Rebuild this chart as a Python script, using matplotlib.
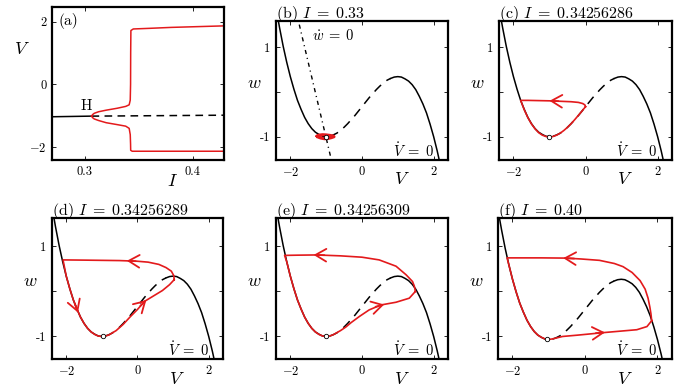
import matplotlib
matplotlib.use('Agg')
import matplotlib.pyplot as plt
import numpy as np

plt.rcParams['font.family'] = 'serif'
plt.rcParams['font.serif'] = ['cmr10', 'DejaVu Serif']
plt.rcParams['mathtext.fontset'] = 'cm'
plt.rcParams['axes.unicode_minus'] = False
plt.rcParams['axes.formatter.use_mathtext'] = True

RED = '#e31a1c'

# ---- panel (a): bifurcation diagram ----
a_I_stable = [0.27, 0.2885, 0.3065]
a_V_stable = [-1.03, -1.02, -1.01]
a_I_unstable = [0.3065, 0.35, 0.39, 0.43]
a_V_unstable = [-1.01, -1.0, -0.99, -0.98]
a_I_max = [0.3065, 0.3075, 0.309, 0.313, 0.32, 0.33, 0.338, 0.3412, 0.3422, 0.3425, 0.3426, 0.3428, 0.345, 0.36, 0.38, 0.40, 0.43]
a_V_max = [-1.01, -0.96, -0.92, -0.87, -0.82, -0.76, -0.70, -0.65, -0.5, 0.0, 1.0, 1.72, 1.77, 1.79, 1.82, 1.84, 1.87]
a_I_min = [0.3065, 0.3075, 0.309, 0.313, 0.32, 0.33, 0.338, 0.3412, 0.3422, 0.3425, 0.3426, 0.344, 0.38, 0.43]
a_V_min = [-1.01, -1.06, -1.10, -1.15, -1.22, -1.28, -1.33, -1.4, -1.6, -1.9, -2.1, -2.13, -2.13, -2.13]

nc_V = [-2.4, -2.3, -2.2, -2.1, -2.0, -1.9, -1.8, -1.7, -1.6, -1.5, -1.4, -1.3, -1.2, -1.1, -1.0,
        -0.9, -0.8, -0.7, -0.6, -0.5, -0.4, -0.3, -0.2, -0.1, 0.0, 0.1, 0.2, 0.3, 0.4, 0.5, 0.6, 0.7, 0.8,
        0.9, 1.0, 1.1, 1.2, 1.3, 1.4, 1.5, 1.6, 1.7, 1.8, 1.9, 2.0, 2.1, 2.2]
nc_w = [1.88, 1.43, 1.02, 0.66, 0.34, 0.06, -0.19, -0.39, -0.57, -0.71, -0.82, -0.90, -0.95, -0.99, -1.0,
        -0.99, -0.96, -0.92, -0.86, -0.79, -0.71, -0.62, -0.53, -0.43, -0.33, -0.23, -0.13, -0.04, 0.05, 0.13, 0.20, 0.26, 0.30,
        0.33, 0.34, 0.33, 0.29, 0.24, 0.16, 0.05, -0.10, -0.27, -0.47, -0.72, -1.0, -1.32, -1.68]
nc_w_f = [1.81, 1.36, 0.95, 0.59, 0.27, -0.01, -0.26, -0.46, -0.64, -0.78, -0.89, -0.97, -1.02, -1.06, -1.07,
          -1.06, -1.03, -0.99, -0.93, -0.86, -0.78, -0.69, -0.60, -0.50, -0.40, -0.30, -0.20, -0.11, -0.02, 0.06, 0.13, 0.19, 0.23,
          0.26, 0.27, 0.26, 0.22, 0.17, 0.09, -0.02, -0.17, -0.34, -0.54, -0.79, -1.07, -1.39, -1.75]

# w-nullcline in (b)
wn_V = [-1.75, -0.86]
wn_w = [1.5, -1.5]

# ---- red trajectories ----
b_V = [-1.25, -1.2, -1.1, -1.0, -0.9, -0.8, -0.78, -0.85, -0.95, -1.05, -1.15, -1.22, -1.25]
b_w = [-0.99, -0.965, -0.955, -0.96, -0.97, -0.985, -1.0, -1.02, -1.04, -1.045, -1.03, -1.01, -0.99]

c_V = [0.0, -0.02, -0.08, -0.2, -0.4, -0.7, -1.0, -1.3, -1.6, -1.8, -1.7, -1.6, -1.5, -1.4, -1.3, -1.2, -1.1,
       -1.0, -0.9, -0.8, -0.7, -0.6, -0.5, -0.4, -0.3, -0.2, -0.1, 0.0]
c_w = [-0.33, -0.29, -0.26, -0.235, -0.22, -0.21, -0.2, -0.195, -0.19, -0.19, -0.40, -0.575, -0.715, -0.825, -0.91, -0.965, -0.995,
       -1.01, -0.995, -0.965, -0.92, -0.86, -0.79, -0.71, -0.62, -0.525, -0.43, -0.33]

d_V = [1.03, 1.02, 0.95, 0.8, 0.6, 0.3, 0.0, -0.5, -1.0, -1.5, -2.09, -2.0, -1.9, -1.8, -1.7, -1.6, -1.5, -1.4, -1.3, -1.2,
       -1.1, -1.0, -0.9, -0.8, -0.6, -0.4, -0.2, 0.0, 0.2, 0.45, 0.7, 0.9, 1.03]
d_w = [0.26, 0.35, 0.45, 0.53, 0.60, 0.65, 0.67, 0.685, 0.69, 0.695, 0.70, 0.34, 0.06, -0.19, -0.39, -0.57, -0.71, -0.82, -0.90, -0.955,
       -0.99, -1.0, -0.99, -0.965, -0.87, -0.73, -0.56, -0.40, -0.22, -0.10, 0.02, 0.15, 0.26]

e_V = [1.49, 1.46, 1.41, 1.23, 0.95, 0.48, 0.0, -0.6, -1.27, -1.8, -2.16, -2.1, -2.0, -1.9, -1.8, -1.7, -1.6, -1.5, -1.4,
       -1.3, -1.2, -1.1, -1.0, -0.9, -0.8, -0.6, -0.45, -0.3, -0.08, 0.2, 0.53, 0.95, 1.32, 1.49]
e_w = [0.0, 0.12, 0.22, 0.37, 0.56, 0.70, 0.76, 0.79, 0.81, 0.805, 0.80, 0.66, 0.34, 0.06, -0.19, -0.39, -0.57, -0.71, -0.82,
       -0.90, -0.955, -0.99, -1.0, -0.99, -0.96, -0.87, -0.79, -0.69, -0.56, -0.41, -0.30, -0.24, -0.15, 0.0]

f_V = [1.84, 1.82, 1.79, 1.74, 1.66, 1.52, 1.3, 1.05, 0.81, 0.4, -0.1, -0.53, -1.2, -1.8, -2.15, -2.1, -2.0, -1.9, -1.8,
       -1.7, -1.6, -1.5, -1.4, -1.3, -1.2, -1.1, -1.0, -0.9, -0.62, -0.2, 0.57, 1.0, 1.43, 1.71, 1.84]
f_w = [-0.65, -0.5, -0.35, -0.15, 0.05, 0.24, 0.42, 0.55, 0.62, 0.69, 0.72, 0.74, 0.745, 0.745, 0.745, 0.59, 0.27, -0.01, -0.26,
       -0.46, -0.64, -0.78, -0.89, -0.97, -1.02, -1.055, -1.065, -1.055, -1.0, -0.97, -0.91, -0.88, -0.85, -0.78, -0.65]

# arrows: (tail, tip)
arrows = {
    'c': [((-0.75, -0.207), (-1.0, -0.2))],
    'd': [((-0.05, 0.672), (-0.3, 0.68)), ((-1.76, -0.27), (-1.67, -0.47)), ((0.08, -0.32), (0.25, -0.19))],
    'e': [((-1.05, 0.805), (-1.35, 0.81)), ((0.38, -0.34), (0.62, -0.29))],
    'f': [((-0.3, 0.73), (-0.6, 0.74)), ((0.3, -0.925), (0.55, -0.91))],
}

fixed_pts = {'b': (-1.0, -1.0), 'c': (-1.0, -1.0), 'd': (-0.97, -1.0), 'e': (-1.0, -1.0), 'f': (-1.05, -1.06)}

titles = {'b': r'(b) $I\;=\;0.33$', 'c': r'(c) $I\;=\;0.34256286$', 'd': r'(d) $I\;=\;0.34256289$',
          'e': r'(e) $I\;=\;0.34256309$', 'f': r'(f) $I\;=\;0.40$'}

loops = {'b': (b_V, b_w), 'c': (c_V, c_w), 'd': (d_V, d_w), 'e': (e_V, e_w), 'f': (f_V, f_w)}

fig = plt.figure(figsize=(6.85, 3.9), dpi=100)

def style(ax):
    for s in ax.spines.values():
        s.set_linewidth(1.6)
    ax.tick_params(direction='in', length=3, width=0.6, top=True, right=True, labelsize=9, pad=4)

# panel (a)
ax = fig.add_axes([0.0759, 0.5897, 0.2511, 0.3923])
ax.plot(a_I_stable, a_V_stable, color='black', lw=1.1)
ax.plot(a_I_unstable, a_V_unstable, color='black', lw=1.1, dashes=(5, 3.5))
ax.plot(a_I_max, a_V_max, color=RED, lw=1.1)
ax.plot(a_I_min, a_V_min, color=RED, lw=1.1)
ax.set_xlim(0.27, 0.4287)
ax.set_ylim(-2.41, 2.47)
ax.set_xticks([0.3, 0.4])
ax.set_xticklabels(['0.3', '0.4'])
ax.set_yticks([-2, 0, 2])
ax.set_yticklabels([r'$-2$', '0', '2'])
ax.text(0.3015, -0.68, 'H', fontsize=11, ha='center', va='center')
ax.text(0.04, 0.91, '(a)', transform=ax.transAxes, fontsize=11, ha='left', va='center')
ax.text(-0.175, 0.725, '$V$', transform=ax.transAxes, fontsize=13, ha='center', va='center')
ax.text(0.70, -0.135, '$I$', transform=ax.transAxes, fontsize=13, ha='center', va='center')
style(ax)

positions = {
    'b': [0.4029, 0.5897, 0.2511, 0.3564],
    'c': [0.7285, 0.5897, 0.2526, 0.3564],
    'd': [0.0759, 0.0795, 0.2496, 0.3615],
    'e': [0.4029, 0.0795, 0.2511, 0.3615],
    'f': [0.7270, 0.0795, 0.2540, 0.3615],
}

nV = np.array(nc_V)
for key in ['b', 'c', 'd', 'e', 'f']:
    ax = fig.add_axes(positions[key])
    w = np.array(nc_w_f if key == 'f' else nc_w)
    left = nV <= -1.0
    mid = (nV >= -0.9) & (nV <= 0.8)
    right = nV >= 0.8
    ax.plot(nV[left], w[left], color='black', lw=1.1)
    ax.plot(nV[mid], w[mid], color='black', lw=1.1, dashes=(6, 4.5))
    ax.plot(nV[right], w[right], color='black', lw=1.1)
    if key == 'b':
        ax.plot(wn_V, wn_w, color='black', lw=1.0, dashes=(3, 2.8, 0.8, 2.8))
        ax.text(0.21, 0.895, r'$\dot{w}\;=\;0$', transform=ax.transAxes, fontsize=10.5, ha='left', va='center')
    lv, lw_ = loops[key]
    ax.plot(lv, lw_, color=RED, lw=2.2 if key == 'b' else 1.2)
    for tail, tip in arrows.get(key, []):
        ax.annotate('', xy=tip, xytext=tail,
                    arrowprops=dict(arrowstyle='->,head_length=0.6,head_width=0.35', color=RED, lw=1.3,
                                    shrinkA=0, shrinkB=0, mutation_scale=13))
    fx, fy = fixed_pts[key]
    ax.plot([fx], [fy], 'o', ms=3.2, mfc='white', mec='black', mew=0.6, zorder=5)
    ax.text(0.915, 0.065, r'$\dot{V}\;=\;0$', transform=ax.transAxes, fontsize=10.5, ha='right', va='center')
    ax.set_xlim(-2.4, 2.4)
    if key in ('b', 'c'):
        ax.set_ylim(-1.52, 1.58)
    else:
        ax.set_ylim(-1.5, 1.63)
    ax.set_xticks([-2, 0, 2])
    ax.set_xticklabels([r'$-2$', '0', '2'])
    ax.set_yticks([-1, 0, 1])
    ax.set_yticklabels(['-1', '', '1'])
    ax.set_title(titles[key], loc='left', fontsize=11.5, pad=2)
    ax.text(-0.125, 0.55, '$w$', transform=ax.transAxes, fontsize=13, ha='center', va='center')
    ax.text(0.73, -0.14, '$V$', transform=ax.transAxes, fontsize=13, ha='center', va='center')
    style(ax)

fig.savefig('out.png', dpi=100)
